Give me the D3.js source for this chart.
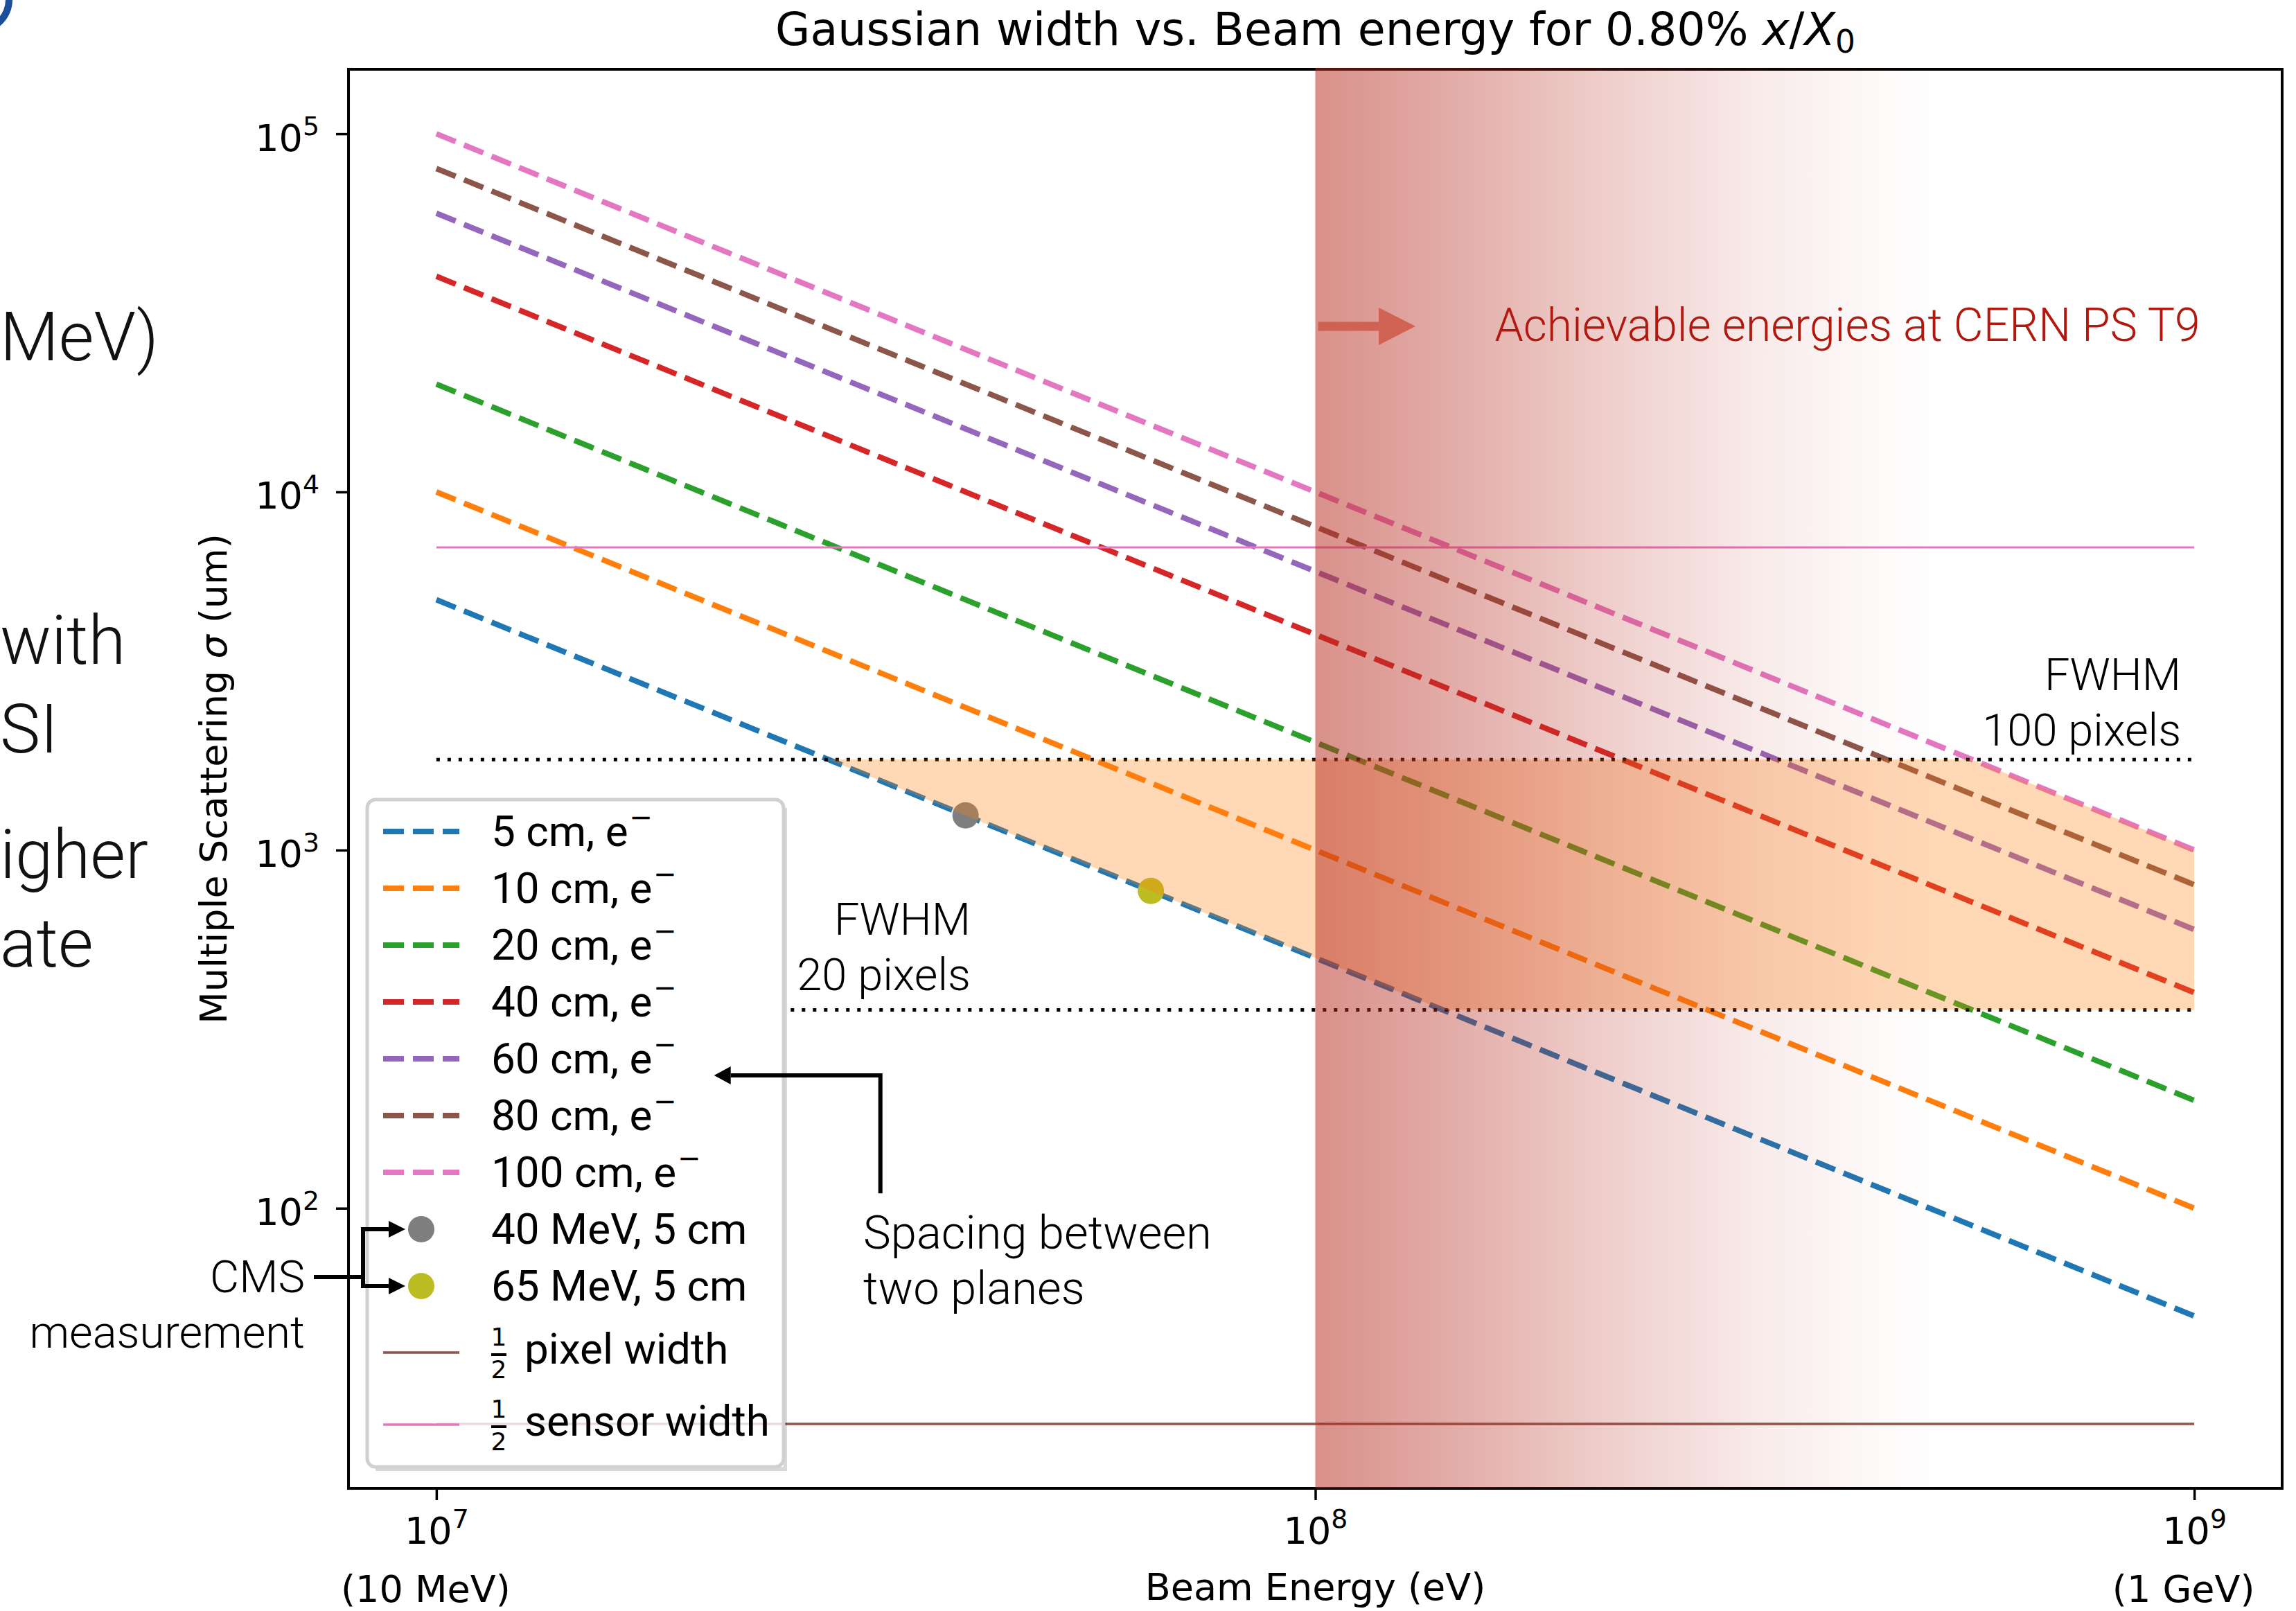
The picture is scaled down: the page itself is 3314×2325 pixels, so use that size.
<!DOCTYPE html>
<html>
<head>
<meta charset="utf-8">
<script src="https://cdn.jsdelivr.net/npm/d3@7"></script>
<style>
  body { margin: 0; background: #fff; }
  svg { display: block; }
</style>
</head>
<body>
<div id="chart"></div>
<script>
// ---- data ----
var energies = [1e7, 1e8, 1e9];                 // beam energy (eV)
var spacings = [5, 10, 20, 40, 60, 80, 100];    // plane spacing (cm)
var sigma5   = [5000, 500, 50];
var sigma10  = [10000, 1000, 100];
var sigma20  = [20000, 2000, 200];
var sigma40  = [40000, 4000, 400];
var sigma60  = [60000, 6000, 600];
var sigma80  = [80000, 8000, 800];
var sigma100 = [100000, 10000, 1000];
var seriesColors = ["#1f77b4", "#ff7f0e", "#2ca02c", "#d62728", "#9467bd", "#8c564b", "#e377c2"];

var cmsEnergies = [4e7, 6.5e7];
var cmsSigma    = [1250, 769];
var cmsLabels   = ["40 MeV, 5 cm", "65 MeV, 5 cm"];
var cmsColors   = ["#7f7f7f", "#bcbd22"];

var halfPixelWidth  = 25;      // um
var halfSensorWidth = 7000;    // um
var fwhm100px = 1790;          // sigma for FWHM of 100 pixels
var fwhm20px  = 358;           // sigma for FWHM of 20 pixels
var fwhm100Start = 1e7;        // where the dotted levels begin
var fwhm20Start  = 2.53e7;
var beamStart = 1e8;           // CERN PS T9 lower limit

var xTickValues = [1e7, 1e8, 1e9];
var xTickNotes  = ["(10 MeV)", "", "(1 GeV)"];
var yTickValues = [1e2, 1e3, 1e4, 1e5];

var sigmaSeries = [sigma5, sigma10, sigma20, sigma40, sigma60, sigma80, sigma100];

// ---- layout ----
var W = 3314, H = 2325;
var plot = { left: 503, right: 3294, top: 100, bottom: 2148 };
var DEJAVU = "'DejaVu Sans', sans-serif";
var FIRA = "Roboto, 'Open Sans', sans-serif";

function logPad(lo, hi) {
    var a = Math.log10(lo), b = Math.log10(hi), p = (b - a) * 0.05;
    return [Math.pow(10, a - p), Math.pow(10, b + p)];
}

var x = d3.scaleLog()
    .domain(logPad(d3.min(energies), d3.max(energies)))
    .range([plot.left, plot.right]);
var allSigma = d3.merge(sigmaSeries).concat([halfPixelWidth, halfSensorWidth]);
var y = d3.scaleLog()
    .domain(logPad(d3.min(allSigma), d3.max(allSigma)))
    .range([plot.bottom, plot.top]);

var svg = d3.select("#chart").append("svg").attr("width", W).attr("height", H);
var defs = svg.append("defs");

// ---- slide text peeking in on the left ----
var slide = svg.append("g").attr("font-family", FIRA).attr("font-weight", 300)
    .attr("font-size", 98).attr("fill", "#111");
[["MeV)", 520], ["with", 958], ["SI", 1086], ["igher", 1267], ["ate", 1395]].forEach(function (f) {
    slide.append("text").attr("x", 0).attr("y", f[1]).text(f[0]);
});
svg.append("path")
    .attr("d", d3.arc()({ innerRadius: 38, outerRadius: 48, startAngle: Math.PI * 0.5, endAngle: Math.PI }))
    .attr("transform", "translate(-30,0)")
    .attr("fill", "#1b4f9c");

// ---- spacing curves ----
var line = d3.line().x(function (d) { return x(d[0]); }).y(function (d) { return y(d[1]); });

svg.append("g").selectAll(".spacing").data(sigmaSeries).enter()
    .append("path")
    .attr("class", "spacing")
    .attr("d", function (s) { return line(d3.zip(energies, s)); })
    .attr("fill", "none")
    .attr("stroke", function (s, i) { return seriesColors[i]; })
    .attr("stroke-width", 8)
    .attr("stroke-dasharray", "30,13");

// half sensor / half pixel widths
var eRange = d3.extent(energies);
svg.append("path").attr("d", line([[eRange[0], halfSensorWidth], [eRange[1], halfSensorWidth]]))
    .attr("stroke", "#e377c2").attr("stroke-width", 3);
svg.append("path").attr("d", line([[eRange[0], halfPixelWidth], [eRange[1], halfPixelWidth]]))
    .attr("stroke", "#8c564b").attr("stroke-width", 3.5);

// FWHM levels
[[fwhm100px, fwhm100Start], [fwhm20px, fwhm20Start]].forEach(function (v) {
    svg.append("path").attr("d", line([[v[1], v[0]], [eRange[1], v[0]]]))
        .attr("stroke", "#000").attr("stroke-width", 5).attr("stroke-dasharray", "5,11");
});

// CMS measurements
svg.append("g").selectAll("circle").data(cmsEnergies).enter()
    .append("circle")
    .attr("cx", function (d) { return x(d); })
    .attr("cy", function (d, i) { return y(cmsSigma[i]); })
    .attr("r", 19)
    .attr("fill", function (d, i) { return cmsColors[i]; });

// usable region: between FWHM 20 and 100 pixels, inside the 5 cm .. 100 cm band
var band = d3.zip(energies, sigma5).concat(d3.zip(energies, sigma100).reverse());
defs.append("clipPath").attr("id", "band").append("path").attr("d", line(band) + "Z");
svg.append("rect")
    .attr("x", x(eRange[0])).attr("width", x(eRange[1]) - x(eRange[0]))
    .attr("y", y(fwhm100px)).attr("height", y(fwhm20px) - y(fwhm100px))
    .attr("fill", "#ff7f0e").attr("fill-opacity", 0.3)
    .attr("clip-path", "url(#band)");

// ---- axes ----
var xMinor = x.ticks().filter(function (v) { return xTickValues.indexOf(v) < 0; });
var yMinor = y.ticks().filter(function (v) { return yTickValues.indexOf(v) < 0; });

var gx = svg.append("g").attr("transform", "translate(0," + plot.bottom + ")");
gx.call(d3.axisBottom(x).tickValues(xMinor).tickSize(9).tickFormat(""));
gx.call(d3.axisBottom(x).tickValues(xTickValues).tickSize(17).tickFormat(""));
var gy = svg.append("g").attr("transform", "translate(" + plot.left + ",0)");
gy.call(d3.axisLeft(y).tickValues(yMinor).tickSize(10).tickFormat(""));
gy.call(d3.axisLeft(y).tickValues(yTickValues).tickSize(18).tickFormat(""));
svg.selectAll(".domain").remove();
svg.selectAll(".tick line").attr("stroke", "#000").attr("stroke-width", 3.5);

function powerLabel(sel, v) {
    sel.append("tspan").text("10");
    sel.append("tspan").attr("font-size", "0.7em").attr("dy", "-0.6em").text(Math.round(Math.log10(v)));
}
gx.selectAll(".tick").filter(function (d) { return xTickValues.indexOf(d) >= 0; })
    .each(function (d) {
        var i = xTickValues.indexOf(d);
        var t = d3.select(this).append("text").attr("y", 80).attr("text-anchor", "middle")
            .attr("font-family", DEJAVU).attr("font-size", 54).attr("fill", "#000");
        powerLabel(t, d);
        if (xTickNotes[i]) {
            d3.select(this).append("text").attr("x", -16).attr("y", 164).attr("text-anchor", "middle")
                .attr("font-family", DEJAVU).attr("font-size", 54).attr("fill", "#000")
                .text(xTickNotes[i]);
        }
    });
gy.selectAll(".tick").filter(function (d) { return yTickValues.indexOf(d) >= 0; })
    .each(function (d) {
        var t = d3.select(this).append("text").attr("x", -42).attr("y", 24).attr("text-anchor", "end")
            .attr("font-family", DEJAVU).attr("font-size", 54).attr("fill", "#000");
        powerLabel(t, d);
    });

svg.append("rect")
    .attr("x", plot.left).attr("y", plot.top)
    .attr("width", plot.right - plot.left).attr("height", plot.bottom - plot.top)
    .attr("fill", "none").attr("stroke", "#000").attr("stroke-width", 4);

// ---- CERN PS T9 shading ----
var grad = defs.append("linearGradient").attr("id", "t9")
    .attr("gradientUnits", "userSpaceOnUse")
    .attr("x1", x(beamStart)).attr("x2", plot.right).attr("y1", 0).attr("y2", 0);
[[0, 0.52], [0.15, 0.38], [0.30, 0.23], [0.45, 0.10], [0.58, 0.025], [0.65, 0]].forEach(function (s) {
    grad.append("stop").attr("offset", s[0]).attr("stop-color", "rgb(182,42,30)").attr("stop-opacity", s[1]);
});
svg.append("rect")
    .attr("x", x(beamStart)).attr("y", plot.top - 2)
    .attr("width", plot.right - x(beamStart)).attr("height", plot.bottom - plot.top + 2)
    .attr("fill", "url(#t9)");

function arrow(g, pts, color, width, headLen, headHalf, opacity) {
    var n = pts.length, a = pts[n - 2], b = pts[n - 1];
    var dx = b[0] - a[0], dy = b[1] - a[1], L = Math.sqrt(dx * dx + dy * dy);
    var ux = dx / L, uy = dy / L;
    var base = [b[0] - ux * headLen, b[1] - uy * headLen];
    var shaft = pts.slice(0, n - 1).concat([base]);
    g.append("path").attr("d", d3.line()(shaft)).attr("fill", "none")
        .attr("stroke", color).attr("stroke-width", width).attr("opacity", opacity || 1);
    g.append("path").attr("d", d3.line()([b,
        [base[0] - uy * headHalf, base[1] + ux * headHalf],
        [base[0] + uy * headHalf, base[1] - ux * headHalf]]) + "Z")
        .attr("fill", color).attr("opacity", opacity || 1);
}

var ann = svg.append("g");
arrow(ann, [[x(beamStart) + 4, y(2.9e4)], [x(1.3e8), y(2.9e4)]], "rgb(206,88,72)", 13, 53, 27, 0.85);
ann.append("text")
    .attr("x", x(1.6e8)).attr("y", y(2.64e4))
    .attr("font-family", FIRA).attr("font-weight", 300).attr("font-size", 66)
    .attr("fill", "rgb(178,24,14)")
    .text("Achievable energies at CERN PS T9");

function multiline(g, lines, xp, yp, anchor, size) {
    var t = g.append("text").attr("x", xp).attr("y", yp).attr("text-anchor", anchor)
        .attr("font-family", FIRA).attr("font-weight", 300).attr("font-size", size || 65).attr("fill", "#000");
    lines.forEach(function (l, i) {
        t.append("tspan").attr("x", xp).attr("dy", i ? 80 : 0).text(l);
    });
}
multiline(ann, ["FWHM", "100 pixels"], x(1e9) - 19, y(fwhm100px) - 100, "end");
multiline(ann, ["FWHM", "20 pixels"], 1401, y(fwhm20px) - 108, "end");
multiline(ann, ["Spacing between", "two planes"], x(3.06e7), y(77), "start", 67);

// ---- legend ----
var legW = 601, legH = 963;
var leg = svg.append("g").attr("transform", "translate(530,1154)");
leg.append("rect").attr("x", 12).attr("y", legH).attr("width", legW - 12).attr("height", 6)
    .attr("fill", "#000").attr("fill-opacity", 0.15);
leg.append("rect").attr("x", legW).attr("y", 12).attr("width", 5).attr("height", legH - 6)
    .attr("fill", "#000").attr("fill-opacity", 0.15);
leg.append("rect").attr("width", legW).attr("height", legH).attr("rx", 12)
    .attr("fill", "#fff").attr("fill-opacity", 0.8)
    .attr("stroke", "#d0d0d0").attr("stroke-width", 5);

var rowY = function (i) { return 46 + 82 * i; };
var lt = leg.append("g").attr("font-family", FIRA).attr("font-size", 62).attr("fill", "#000");
spacings.forEach(function (cm, i) {
    leg.append("line").attr("x1", 23).attr("x2", 133).attr("y1", rowY(i)).attr("y2", rowY(i))
        .attr("stroke", seriesColors[i]).attr("stroke-width", 8).attr("stroke-dasharray", "30,13");
    var t = lt.append("text").attr("x", 179).attr("y", rowY(i) + 21);
    t.append("tspan").text(cm + " cm, e");
    t.append("tspan").attr("font-family", DEJAVU).attr("font-size", 40).attr("dx", 2).attr("dy", -28).text("\u2212");
});
cmsLabels.forEach(function (lab, j) {
    var i = spacings.length + j;
    leg.append("circle").attr("cx", 78).attr("cy", rowY(i)).attr("r", 19).attr("fill", cmsColors[j]);
    lt.append("text").attr("x", 179).attr("y", rowY(i) + 21).text(lab);
});
[["pixel width", "#8c564b"], ["sensor width", "#e377c2"]].forEach(function (h, j) {
    var ry = 798 + 104 * j;
    leg.append("line").attr("x1", 23).attr("x2", 133).attr("y1", ry).attr("y2", ry)
        .attr("stroke", h[1]).attr("stroke-width", 3.5);
    var fr = leg.append("g").attr("font-family", DEJAVU).attr("font-size", 36).attr("text-anchor", "middle");
    fr.append("text").attr("x", 190).attr("y", ry - 10).text("1");
    fr.append("text").attr("x", 190).attr("y", ry + 37).text("2");
    fr.append("line").attr("x1", 179).attr("x2", 201).attr("y1", ry + 3).attr("y2", ry + 3)
        .attr("stroke", "#000").attr("stroke-width", 4);
    lt.append("text").attr("x", 227).attr("y", ry + 16).text(h[0]);
});

// spacing arrow sits above the legend
arrow(svg, [[x(3.2e7), y(110)], [x(3.2e7), y(235)], [x(2.07e7), y(235)]], "#000", 6, 24, 13);

// ---- CMS note pointing at the legend markers ----
var markerX = 530 + 78, r1 = 1154 + rowY(7), r2 = 1154 + rowY(8);
multiline(svg, ["CMS", "measurement"], 440, 1865, "end");
svg.append("path").attr("d", d3.line()([[453, 1843], [524, 1843]]))
    .attr("stroke", "#000").attr("stroke-width", 6);
arrow(svg, [[524, r1 - 3], [524, r1], [markerX - 23, r1]], "#000", 6, 24, 12);
arrow(svg, [[524, r2 + 3], [524, r2], [markerX - 23, r2]], "#000", 6, 24, 12);
svg.append("path").attr("d", d3.line()([[524, r1], [524, r2]]))
    .attr("stroke", "#000").attr("stroke-width", 6);

// ---- titles ----
var title = svg.append("text").attr("x", (plot.left + plot.right) / 2).attr("y", 65)
    .attr("text-anchor", "middle").attr("font-family", DEJAVU).attr("font-size", 65).attr("fill", "#000");
title.append("tspan").text("Gaussian width vs. Beam energy for 0.80% ");
title.append("tspan").attr("font-style", "italic").text("x");
title.append("tspan").text("/");
title.append("tspan").attr("font-style", "italic").text("X");
title.append("tspan").attr("font-size", "0.7em").attr("dy", "0.25em").text("0");

svg.append("text").attr("x", (plot.left + plot.right) / 2).attr("y", 2309)
    .attr("text-anchor", "middle").attr("font-family", DEJAVU).attr("font-size", 54)
    .text("Beam Energy (eV)");

var yl = svg.append("text").attr("transform", "translate(327," + ((plot.top + plot.bottom) / 2) + ") rotate(-90)")
    .attr("text-anchor", "middle").attr("font-family", DEJAVU).attr("font-size", 54);
yl.append("tspan").text("Multiple Scattering ");
yl.append("tspan").attr("font-style", "italic").text("\u03c3");
yl.append("tspan").text(" (um)");
</script>
</body>
</html>
